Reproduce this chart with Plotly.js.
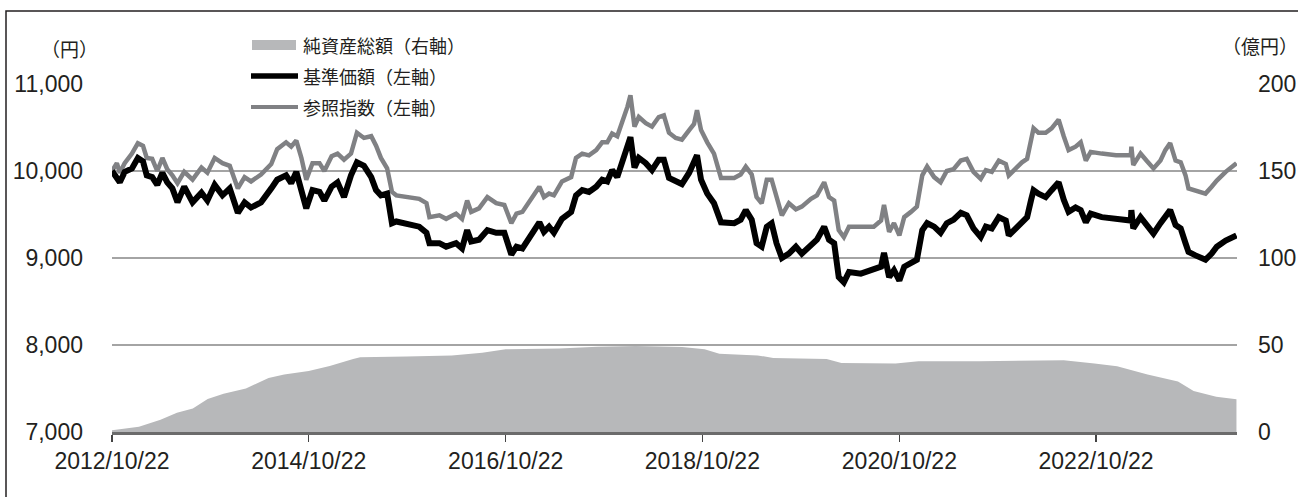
<!DOCTYPE html>
<html>
<head>
<meta charset="utf-8">
<script src="https://cdn.plot.ly/plotly-3.0.1.min.js"></script>
<style>
html,body{margin:0;padding:0;background:#fff;}
#chart{width:1298px;height:497px;}
</style>
</head>
<body>
<div id="chart"></div>
<script>
// ---- data ----
const dates = [
"2012-10-22","2012-11-09","2012-11-20","2012-12-08","2013-01-04","2013-01-26","2013-02-14","2013-02-28","2013-03-20","2013-04-08",
"2013-04-27","2013-05-15","2013-06-03","2013-06-22","2013-07-17","2013-08-17","2013-09-19","2013-10-11","2013-11-07","2013-12-06",
"2014-01-02","2014-02-01","2014-02-26","2014-03-22","2014-04-28","2014-06-05","2014-06-27","2014-07-30","2014-08-18","2014-09-06",
"2014-09-25","2014-10-13","2014-11-05","2014-12-01","2014-12-19","2015-01-15","2015-02-06","2015-03-02","2015-03-28","2015-04-19",
"2015-05-15","2015-06-11","2015-06-29","2015-07-17","2015-08-09","2015-08-27","2015-09-12","2015-10-29","2015-12-06","2016-01-02",
"2016-01-13","2016-02-19","2016-03-15","2016-04-21","2016-05-13","2016-06-01","2016-06-16","2016-07-15","2016-08-15","2016-09-17",
"2016-10-17","2016-11-12","2016-12-01","2016-12-23","2017-01-29","2017-02-24","2017-03-13","2017-04-01","2017-04-19","2017-05-19",
"2017-06-22","2017-07-10","2017-08-02","2017-08-27","2017-09-23","2017-10-15","2017-11-03","2017-11-21","2017-12-10","2017-12-28",
"2018-01-17","2018-01-28","2018-02-12","2018-02-28","2018-03-26","2018-04-18","2018-05-13","2018-06-01","2018-06-20","2018-07-15",
"2018-08-07","2018-09-03","2018-09-21","2018-10-02","2018-10-17","2018-11-09","2018-12-04","2018-12-30","2019-02-17","2019-03-13",
"2019-04-01","2019-04-23","2019-05-11","2019-05-30","2019-06-18","2019-07-06","2019-07-24","2019-08-13","2019-09-08","2019-10-04",
"2019-10-26","2019-11-29","2019-12-21","2020-01-17","2020-02-04","2020-02-23","2020-03-11","2020-03-30","2020-04-18","2020-06-01",
"2020-07-19","2020-08-15","2020-08-26","2020-09-14","2020-10-02","2020-10-22","2020-11-09","2020-12-04","2020-12-26","2021-01-15",
"2021-02-02","2021-02-28","2021-03-24","2021-04-16","2021-05-11","2021-06-07","2021-06-29","2021-07-24","2021-08-20","2021-09-08",
"2021-09-30","2021-10-26","2021-11-21","2021-12-02","2021-12-28","2022-01-20","2022-02-08","2022-02-23","2022-03-04","2022-03-22",
"2022-04-18","2022-05-10","2022-06-05","2022-06-24","2022-07-12","2022-08-07","2022-08-26","2022-09-14","2022-10-02","2022-11-12",
"2023-01-04","2023-02-28","2023-03-02","2023-03-09","2023-04-05","2023-04-27","2023-05-23","2023-06-18","2023-07-06","2023-07-24",
"2023-08-13","2023-09-01","2023-09-19","2023-09-30","2023-10-26","2023-12-02","2023-12-25","2024-01-13","2024-02-15","2024-03-26"
];
const basePrice = [
10000,9930,9870,9990,10030,10150,10110,9950,9930,9840,
9980,9870,9800,9640,9820,9640,9750,9660,9840,9720,
9800,9520,9640,9580,9640,9800,9900,9950,9860,9990,
9760,9570,9780,9760,9660,9820,9870,9700,9950,10100,
10060,9930,9780,9720,9740,9400,9420,9380,9360,9290,
9170,9170,9130,9170,9110,9320,9190,9210,9320,9290,
9290,9040,9130,9110,9270,9410,9300,9360,9290,9450,
9530,9720,9780,9760,9820,9900,9880,10010,9930,10090,
10300,10390,10040,10150,10090,10010,10130,10130,9920,9880,
9850,9980,10090,10180,9900,9740,9630,9410,9400,9440,
9550,9440,9170,9130,9360,9400,9170,9000,9050,9130,
9050,9150,9210,9360,9210,9170,8780,8720,8840,8820,
8860,8900,9060,8780,8860,8740,8900,8940,8980,9320,
9400,9360,9290,9400,9440,9520,9490,9340,9240,9360,
9340,9470,9430,9260,9340,9410,9470,9670,9780,9740,
9700,9780,9870,9670,9530,9580,9550,9410,9510,9470,
9450,9430,9550,9340,9470,9380,9280,9400,9470,9550,
9380,9340,9170,9070,9030,8980,9050,9130,9200,9260
];
const refIndex = [
10000,10090,9980,10090,10200,10320,10290,10150,10140,10000,
10150,10020,9950,9860,9990,9900,10040,9980,10150,10090,
10060,9800,9930,9880,9960,10080,10250,10330,10280,10350,
10150,9900,10090,10090,10000,10170,10200,10130,10200,10440,
10380,10400,10290,10150,10030,9760,9720,9700,9680,9630,
9470,9490,9450,9510,9450,9660,9530,9570,9700,9630,
9610,9400,9510,9530,9700,9820,9700,9740,9720,9880,
9930,10150,10200,10180,10240,10330,10330,10430,10400,10550,
10740,10870,10510,10620,10550,10510,10620,10640,10440,10380,
10360,10470,10540,10700,10470,10330,10200,9920,9920,9960,
10050,9960,9700,9630,9900,9900,9700,9490,9630,9560,
9590,9680,9720,9870,9700,9660,9320,9240,9360,9360,
9360,9430,9610,9300,9400,9260,9470,9530,9590,9950,
10050,9930,9870,10000,10020,10120,10140,9990,9910,10010,
9990,10120,10080,9950,10030,10100,10140,10360,10490,10440,
10440,10490,10590,10400,10240,10280,10330,10120,10220,10200,
10180,10180,10280,10070,10200,10120,10030,10120,10240,10320,
10120,10100,9950,9800,9780,9740,9820,9890,9990,10090
];
const assetDates = [
"2012-10-22","2013-01-30","2013-04-20","2013-06-20","2013-08-18","2013-10-12","2013-12-10","2014-03-03","2014-05-26","2014-07-23",
"2014-10-22","2015-01-08","2015-04-05","2015-05-01","2015-10-20","2016-04-05","2016-07-27","2016-10-22","2017-05-08","2017-09-27",
"2018-02-17","2018-08-08","2018-10-30","2018-12-24","2019-05-15","2019-07-12","2020-01-26","2020-03-21","2020-10-08","2021-01-01",
"2021-08-14","2022-03-03","2022-06-24","2022-10-16","2023-01-08","2023-05-01","2023-08-22","2023-10-19","2024-01-11","2024-03-26"
];
const netAssets = [
1,3,7,11,13.5,19,22,25,31,33,
35,38,42,43,43.4,44,45.5,47.5,48,49,
49.4,48.8,47.5,45,44,42.6,42,39.7,39.3,40.7,
40.7,41,41.3,39.3,37.8,33,29,23.6,20.3,18.8
];
const tickDates = ["2012-10-22","2014-10-22","2016-10-22","2018-10-22","2020-10-22","2022-10-22"];
const tickLabels = ["2012/10/22","2014/10/22","2016/10/22","2018/10/22","2020/10/22","2022/10/22"];
const leftTicks = [7000,8000,9000,10000,11000];
const rightTicks = [0,50,100,150,200];
const seriesNames = ["純資産総額（右軸）","基準価額（左軸）","参照指数（左軸）"];
const leftUnit = "（円）";
const rightUnit = "（億円）";

// ---- styling ----
const cArea = "#b7b8ba", cRef = "#808184", cBase = "#000000";
const numFont = {family: "Liberation Sans, Arial, sans-serif", size: 23, color: "#231f20"};
const jpFont = {family: "Noto Sans CJK JP, sans-serif", size: 18, color: "#231f20"};
const unitFont = {family: "Noto Sans CJK JP, sans-serif", size: 19, color: "#231f20"};

const traces = [
  {x: assetDates, y: netAssets, yaxis: "y2", type: "scatter", mode: "lines",
   fill: "tozeroy", fillcolor: cArea, line: {color: cArea, width: 0}, name: seriesNames[0], showlegend: false},
  {x: dates, y: refIndex, type: "scatter", mode: "lines",
   line: {color: cRef, width: 4.5}, name: seriesNames[2], showlegend: false},
  {x: dates, y: basePrice, type: "scatter", mode: "lines",
   line: {color: cBase, width: 6}, name: seriesNames[1], showlegend: false}
];

// pixel -> paper helpers for decorations (plot area 112..1237 x 84..432)
const L = 112, T = 84, W = 1125, H = 348;
const px = v => (v - L) / W;
const py = v => (T + H - v) / H;

const shapes = [
  {type: "rect", xref: "paper", yref: "paper", x0: px(6), x1: px(1310), y0: py(11), y1: py(520),
   line: {color: "#231f20", width: 1.5}, fillcolor: "rgba(0,0,0,0)", layer: "above"},
  {type: "rect", xref: "paper", yref: "paper", x0: px(233), x1: px(488), y0: py(120), y1: py(30),
   line: {width: 0}, fillcolor: "#ffffff", layer: "above"},
  {type: "rect", xref: "paper", yref: "paper", x0: px(252), x1: px(296), y0: py(50), y1: py(40),
   line: {width: 0}, fillcolor: cArea, layer: "above"},
  {type: "line", xref: "paper", yref: "paper", x0: px(251), x1: px(298), y0: py(76), y1: py(76),
   line: {color: cBase, width: 5.5}, layer: "above"},
  {type: "line", xref: "paper", yref: "paper", x0: px(251), x1: px(298), y0: py(107), y1: py(107),
   line: {color: cRef, width: 4}, layer: "above"}
];

const annotations = [
  {xref: "paper", yref: "paper", x: px(301), y: py(45), text: seriesNames[0], showarrow: false, xanchor: "left", yanchor: "middle", font: jpFont},
  {xref: "paper", yref: "paper", x: px(301), y: py(76), text: seriesNames[1], showarrow: false, xanchor: "left", yanchor: "middle", font: jpFont},
  {xref: "paper", yref: "paper", x: px(301), y: py(107), text: seriesNames[2], showarrow: false, xanchor: "left", yanchor: "middle", font: jpFont},
  {xref: "paper", yref: "paper", x: px(69), y: py(48), text: leftUnit, showarrow: false, xanchor: "center", yanchor: "middle", font: unitFont},
  {xref: "paper", yref: "paper", x: px(1260), y: py(45), text: rightUnit, showarrow: false, xanchor: "center", yanchor: "middle", font: unitFont}
];

const layout = {
  width: 1298, height: 497,
  margin: {l: L, r: 1298 - L - W, t: T, b: 497 - T - H, pad: 0},
  paper_bgcolor: "#ffffff", plot_bgcolor: "#ffffff",
  showlegend: false,
  xaxis: {type: "date", range: ["2012-10-22", "2024-03-28"], tickmode: "array",
    tickvals: tickDates, ticktext: tickLabels, ticks: "outside", ticklen: 7, tickwidth: 1.2, tickcolor: "#444",
    showline: true, linecolor: "#6b6b6b", linewidth: 2.5, showgrid: false, zeroline: false,
    tickfont: numFont, fixedrange: true},
  yaxis: {range: [7000, 11000], tickmode: "array", tickvals: leftTicks, tickformat: ",d",
    showgrid: true, gridcolor: "#a4a4a4", gridwidth: 2, zeroline: false, showline: false,
    ticks: "", ticklabelstandoff: 28, tickfont: numFont, fixedrange: true},
  yaxis2: {range: [0, 200], overlaying: "y", side: "right", tickmode: "array", tickvals: rightTicks,
    showgrid: false, zeroline: false, showline: false, ticks: "", ticklabelstandoff: 20,
    tickfont: numFont, fixedrange: true},
  shapes: shapes,
  annotations: annotations
};

Plotly.newPlot("chart", traces, layout, {displayModeBar: false, staticPlot: true});
</script>
</body>
</html>
